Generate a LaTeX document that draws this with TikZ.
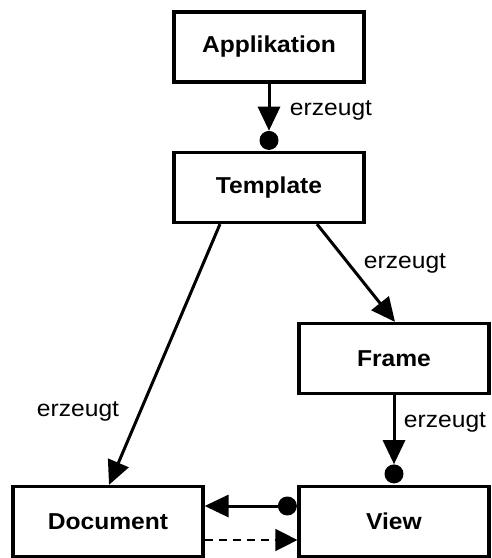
\documentclass[tikz,border=0pt]{standalone}
\usepackage{fontspec}
\setmainfont{Liberation Sans}[FakeStretch=1.07]
\usetikzlibrary{arrows.meta}
\begin{document}
\begin{tikzpicture}[x=1pt,y=-1pt,
  classbox/.style={draw,line width=3.2pt,minimum width=190pt,minimum height=70pt,
    inner sep=0pt,font=\fontsize{23}{27}\selectfont\bfseries},
  dot/.style={circle,fill,inner sep=0pt,minimum size=19pt},
  link/.style={line width=3pt,-{Triangle[length=24pt,width=22pt]}},
  weak/.style={line width=1.4pt,dash pattern=on 8pt off 6pt,-{Triangle[length=22pt,width=22pt]}},
  lbl/.style={font=\fontsize{23}{27}\selectfont,inner sep=0pt}]
\useasboundingbox (0,0) rectangle (492,558);
% classes
\node[classbox] (app)  at (269,47)    {Applikation};
\node[classbox] (tpl)  at (269,187.5) {Template};
\node[classbox] (frm)  at (394,358.5) {Frame};
\node[classbox] (doc)  at (108,521.5) {Document};
\node[classbox] (view) at (394,521.5) {View};
% creation dots
\node[dot] (d1) at ([yshift=10.5pt]tpl.north) {};
\node[dot] (d2) at ([yshift=11pt]view.north) {};
\node[dot] (d3) at ([xshift=-10pt,yshift=15.5pt]view.west) {};
% connectors
\draw[link] (app.south) -- (d1.north);
\draw[link] ([xshift=-49pt]tpl.south) -- ([xshift=1pt]doc.north);
\draw[link] ([xshift=48pt]tpl.south) -- ([xshift=1pt]frm.north);
\draw[link] (frm.south) -- (d2.north);
\draw[link] (d3.west) -- ([yshift=15.5pt]doc.east);
\draw[weak] ([yshift=-18.5pt]doc.east) -- ([yshift=-18.5pt]view.west);
% labels
\node[lbl] (l1) at (331,110) {erzeugt};
\node[lbl] (l2) at (405,263) {erzeugt};
\node[lbl] (l3) at (78,411)  {erzeugt};
\node[lbl] (l4) at (445,422) {erzeugt};
\end{tikzpicture}
\end{document}
